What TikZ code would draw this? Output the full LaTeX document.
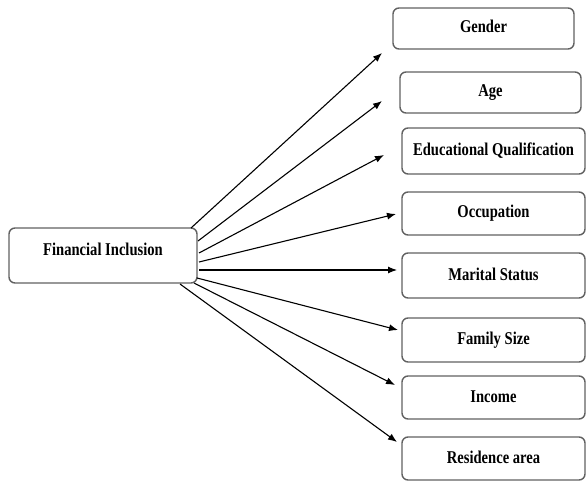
\documentclass[tikz,border=0pt]{standalone}
\usepackage{fontspec}
\setmainfont{Liberation Serif}[FakeStretch=0.81]
\usetikzlibrary{arrows.meta}
\begin{document}
\begin{tikzpicture}[x=1pt,y=-1pt,
  box/.style={draw=black!62, line width=1.4pt, rounded corners=6pt, inner sep=0pt,
    text height=12pt, text depth=3pt, fill=white,
    font=\fontsize{18}{21}\selectfont\bfseries},
  rbox/.style={box, minimum width=183pt, minimum height=43pt},
  arr/.style={line width=1.1pt, black, -{Latex[length=9pt,width=7pt]}}]
\useasboundingbox (0,0) rectangle (586,481);
\node[box, minimum width=188pt, minimum height=55pt, text height=10pt, text depth=10pt] (fi) at (103,255.5) {Financial Inclusion};
\node[rbox, minimum width=181pt, minimum height=41pt] (gen) at (483.5,28.5) {Gender};
\node[rbox, minimum width=181pt, minimum height=41pt] (age) at (490.5,92.5) {Age};
\node[rbox, minimum height=46pt] (edu) at (493.5,151) {Educational Qualification};
\node[rbox] (occ) at (493.5,213.5) {Occupation};
\node[rbox, minimum height=45pt] (mar) at (493.5,275.5) {Marital Status};
\node[rbox, minimum height=44pt] (fam) at (493.5,340) {Family Size};
\node[rbox] (inc) at (493.5,397.5) {Income};
\node[rbox] (res) at (493.5,458.5) {Residence area};
\coordinate (s1) at (191,228); \coordinate (e1) at (382,53);
\coordinate (s2) at (198,241); \coordinate (e2) at (382,101);
\coordinate (s3) at (199,253); \coordinate (e3) at (384,155);
\coordinate (s4) at (199,262); \coordinate (e4) at (396,214);
\coordinate (s5) at (199,270); \coordinate (e5) at (397,270);
\coordinate (s6) at (197,278); \coordinate (e6) at (398,330);
\coordinate (s7) at (194,283); \coordinate (e7) at (395,385);
\coordinate (s8) at (180,284); \coordinate (e8) at (397,442);
\foreach \i in {1,...,8} {\draw[arr] (s\i) -- (e\i);}
\end{tikzpicture}
\end{document}
